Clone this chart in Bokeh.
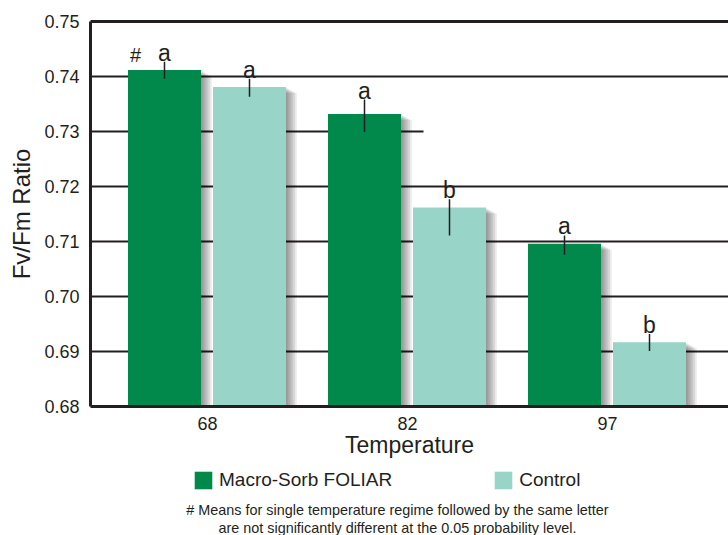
from bokeh.plotting import figure
from bokeh.layouts import column
from bokeh.models import (Range1d, FixedTicker, LinearAxis, Legend, LegendItem, Label,
                          NumeralTickFormatter)
from bokeh.core.properties import value
from bokeh.embed import file_html
from bokeh.resources import INLINE

# ---------------- data ----------------
temps = ["68", "82", "97"]
series_names = ["Macro-Sorb FOLIAR", "Control"]
macro = [0.7412, 0.7332, 0.7096]
control = [0.7381, 0.7162, 0.6917]
macro_err_up = [0.0015, 0.0026, 0.0015]
macro_err_dn = [0.0016, 0.0033, 0.0020]
control_err_up = [0.0015, 0.0015, 0.0015]
control_err_dn = [0.0018, 0.0051, 0.0016]
macro_letters = ["a", "a", "a"]
control_letters = ["a", "b", "b"]
yticks = [0.68, 0.69, 0.70, 0.71, 0.72, 0.73, 0.74, 0.75]
footnote = ["# Means for single temperature regime followed by the same letter",
            "are not significantly different at the 0.05 probability level."]

# ---------------- style ----------------
INK = "#231f20"
GREEN = "#00894b"
TEAL = "#99d4c8"
FONT = "Liberation Sans"
BAR_W = 0.365
OFF_M, OFF_C = -0.215, 0.21
PX_X = 200.0          # pixels per x unit
PX_Y = 5500.0         # pixels per y unit
COLORS = [GREEN, TEAL]

idx = list(range(len(temps)))
xm = [i + OFF_M for i in idx]
xc = [i + OFF_C for i in idx]

p = figure(width=728, height=465, output_backend="svg", toolbar_location=None,
           x_range=Range1d(-0.585, 2.605), y_range=Range1d(0.68, 0.75),
           min_border_left=90, min_border_right=0, min_border_top=21,
           min_border_bottom=59)
p.outline_line_color = None
p.xgrid.visible = False
p.ygrid.visible = False
p.background_fill_color = "white"
p.border_fill_color = "white"

# grid lines (drawn as segments under the bars)
x0 = p.x_range.start
x1 = p.x_range.end
gx1 = [1.08 if abs(t - 0.73) < 1e-9 else x1 for t in yticks[1:-1]]
p.segment(x0=[x0] * len(gx1), x1=gx1, y0=yticks[1:-1], y1=yticks[1:-1],
          line_color=INK, line_width=2.2)

# soft drop shadows
for k in range(1, 7):
    dx = 1.8 * k / PX_X
    dy = 1.0 * k / PX_Y
    for xs, vals in ((xm, macro), (xc, control)):
        p.vbar(x=[x + dx for x in xs], top=[v - dy for v in vals], bottom=0.68,
               width=BAR_W, fill_color="black", fill_alpha=0.08, line_color=None)

p.vbar(x=xm, top=macro, bottom=0.68, width=BAR_W, fill_color=GREEN, line_color=None)
p.vbar(x=xc, top=control, bottom=0.68, width=BAR_W, fill_color=TEAL, line_color=None)

# error bars
p.segment(x0=xm, x1=xm, y0=[v - e for v, e in zip(macro, macro_err_dn)],
          y1=[v + e for v, e in zip(macro, macro_err_up)], line_color=INK, line_width=1.5)
p.segment(x0=xc, x1=xc, y0=[v - e for v, e in zip(control, control_err_dn)],
          y1=[v + e for v, e in zip(control, control_err_up)], line_color=INK, line_width=1.5)

# letters
p.text(x=xm, y=[v + e for v, e in zip(macro, macro_err_up)], text=macro_letters,
       text_align="center", text_baseline="bottom", y_offset=4, text_color=INK,
       text_font=value(FONT), text_font_size="23px")
p.text(x=xc, y=[v + e for v, e in zip(control, control_err_up)], text=control_letters,
       text_align="center", text_baseline="bottom", y_offset=4, text_color=INK,
       text_font=value(FONT), text_font_size="23px")
p.text(x=[xm[0]], y=[macro[0] + macro_err_up[0]], text=["#"], x_offset=-29, y_offset=4,
       text_align="center", text_baseline="bottom", text_color=INK,
       text_font=value(FONT), text_font_size="20px")

# axes
yax = p.yaxis[0]
yax.ticker = FixedTicker(ticks=yticks)
yax.formatter = NumeralTickFormatter(format="0.00")
yax.axis_line_width = 3
yax.axis_line_color = INK
yax.major_tick_out = 0
yax.major_tick_in = 0
yax.minor_tick_out = 0
yax.minor_tick_in = 0
yax.major_label_text_font = FONT
yax.major_label_text_font_size = "18px"
yax.major_label_text_color = INK
yax.major_label_standoff = 11
yax.axis_label = "Fv/Fm Ratio"
yax.axis_label_text_font = FONT
yax.axis_label_text_font_size = "24px"
yax.axis_label_text_font_style = "normal"
yax.axis_label_text_color = INK
yax.axis_label_standoff = 6

xax = p.xaxis[0]
xax.ticker = FixedTicker(ticks=idx)
xax.major_label_overrides = {i: t for i, t in zip(idx, temps)}
xax.axis_line_width = 3
xax.axis_line_color = INK
xax.major_tick_out = 0
xax.major_tick_in = 0
xax.minor_tick_out = 0
xax.minor_tick_in = 0
xax.major_label_text_font = FONT
xax.major_label_text_font_size = "18px"
xax.major_label_text_color = INK
xax.major_label_standoff = 10
xax.axis_label = "Temperature"
xax.axis_label_text_font = FONT
xax.axis_label_text_font_size = "23px"
xax.axis_label_text_font_style = "normal"
xax.axis_label_text_color = INK
xax.axis_label_standoff = -1

top_ax = LinearAxis(ticker=FixedTicker(ticks=[]), axis_line_width=3, axis_line_color=INK,
                    major_tick_out=0, major_tick_in=0, minor_tick_out=0, minor_tick_in=0)
p.add_layout(top_ax, "above")

# ---------------- legend + footnote strip ----------------
q = figure(width=728, height=70, output_backend="svg", toolbar_location=None,
           x_range=Range1d(0, 1), y_range=Range1d(0, 1),
           min_border_left=90, min_border_right=0, min_border_top=0, min_border_bottom=0)
q.axis.visible = False
q.grid.visible = False
q.outline_line_color = None
q.background_fill_color = "white"
# legend-only renderers (their single point lies wholly outside the visible range)
swatches = [q.vbar(x=[-5], top=[-2], bottom=[-3], width=0.1, fill_color=c, line_color=None)
            for c in COLORS]
legend = Legend(items=[LegendItem(label=n, renderers=[r]) for n, r in zip(series_names, swatches)],
                orientation="horizontal", location=(102, 44),
                glyph_width=22, glyph_height=22, label_standoff=5, spacing=100,
                label_text_font=FONT, label_text_font_size="19px",
                label_text_color=INK, label_height=22,
                padding=0, margin=0, border_line_color=None, background_fill_alpha=0)
q.add_layout(legend, "center")
for line, sy in zip(footnote, (26, 8)):
    q.add_layout(Label(x=307, y=sy, x_units="screen", y_units="screen", text=line,
                       text_align="center", text_baseline="middle", text_color=INK,
                       text_font=FONT, text_font_size="14.4px"))

open("out.html", "w").write(file_html(column(p, q, spacing=0), INLINE))
